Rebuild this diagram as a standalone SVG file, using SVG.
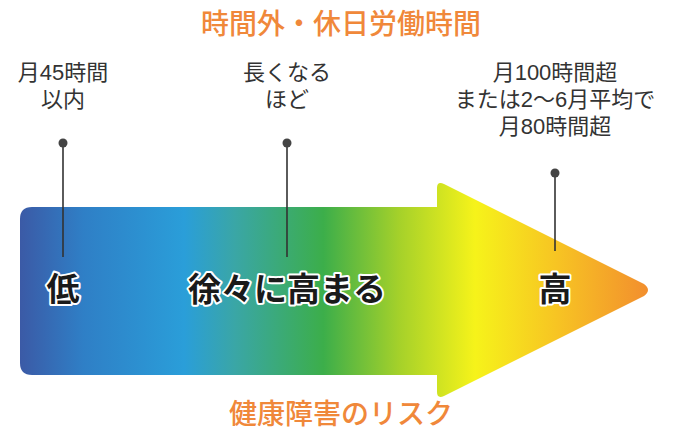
<svg xmlns="http://www.w3.org/2000/svg" width="682" height="432" viewBox="0 0 682 432">
<defs>
<linearGradient id="g" x1="20" y1="0" x2="652" y2="0" gradientUnits="userSpaceOnUse">
<stop offset="0" stop-color="#3b5aa6"/>
<stop offset="0.1" stop-color="#2f7fc6"/>
<stop offset="0.26" stop-color="#2a9ed9"/>
<stop offset="0.34" stop-color="#3aa6a6"/>
<stop offset="0.48" stop-color="#3cae4a"/>
<stop offset="0.6" stop-color="#a5d12a"/>
<stop offset="0.72" stop-color="#f6f31a"/>
<stop offset="0.85" stop-color="#f7c423"/>
<stop offset="1" stop-color="#f28c2e"/>
</linearGradient>
<style>
.t{font-family:"Noto Sans CJK JP","Noto Sans CJK SC",sans-serif;text-anchor:middle}
.or{fill:#f0883a;font-size:28px;font-weight:500}
.lb{fill:#333;font-size:22px;font-family:"Liberation Sans","Noto Sans CJK JP",sans-serif}
.in{fill:#1a1a1a;font-size:33px;font-weight:700;stroke:#fff;stroke-width:4;paint-order:stroke;stroke-linejoin:round}
.ln{stroke:#333;stroke-width:1.6}
.dt{fill:#444}
</style>
</defs>
<g id="arrow">
<path d="M32 207 H437 V188 Q437 181 444 184 L644 284 Q652 290 644 296 L444 396 Q437 399 437 392 V375 H32 Q20 375 20 363 V219 Q20 207 32 207 Z" fill="url(#g)"/>
</g>
<g id="title"><text class="t or" x="341" y="34">時間外・休日労働時間</text></g>
<g id="footer"><text class="t or" x="341" y="424">健康障害のリスク</text></g>
<g id="connectors">
<line class="ln" x1="63" y1="143" x2="63" y2="257"/>
<circle class="dt" cx="63" cy="143" r="4.5"/>
<line class="ln" x1="287" y1="143" x2="287" y2="257"/>
<circle class="dt" cx="287" cy="143" r="4.5"/>
<line class="ln" x1="555" y1="173" x2="555" y2="251"/>
<circle class="dt" cx="555" cy="173" r="4.5"/>
</g>
<g id="label-low">
<text class="t lb" x="63" y="80">月45時間</text>
<text class="t lb" x="63" y="107">以内</text>
<text class="t in" x="63" y="301">低</text>
</g>
<g id="label-mid">
<text class="t lb" x="287" y="80">長くなる</text>
<text class="t lb" x="287" y="107">ほど</text>
<text class="t in" x="287" y="301">徐々に高まる</text>
</g>
<g id="label-high">
<text class="t lb" x="555" y="80">月100時間超</text>
<text class="t lb" x="555" y="107">または2〜6月平均で</text>
<text class="t lb" x="555" y="134">月80時間超</text>
<text class="t in" x="555" y="301">高</text>
</g>
</svg>
